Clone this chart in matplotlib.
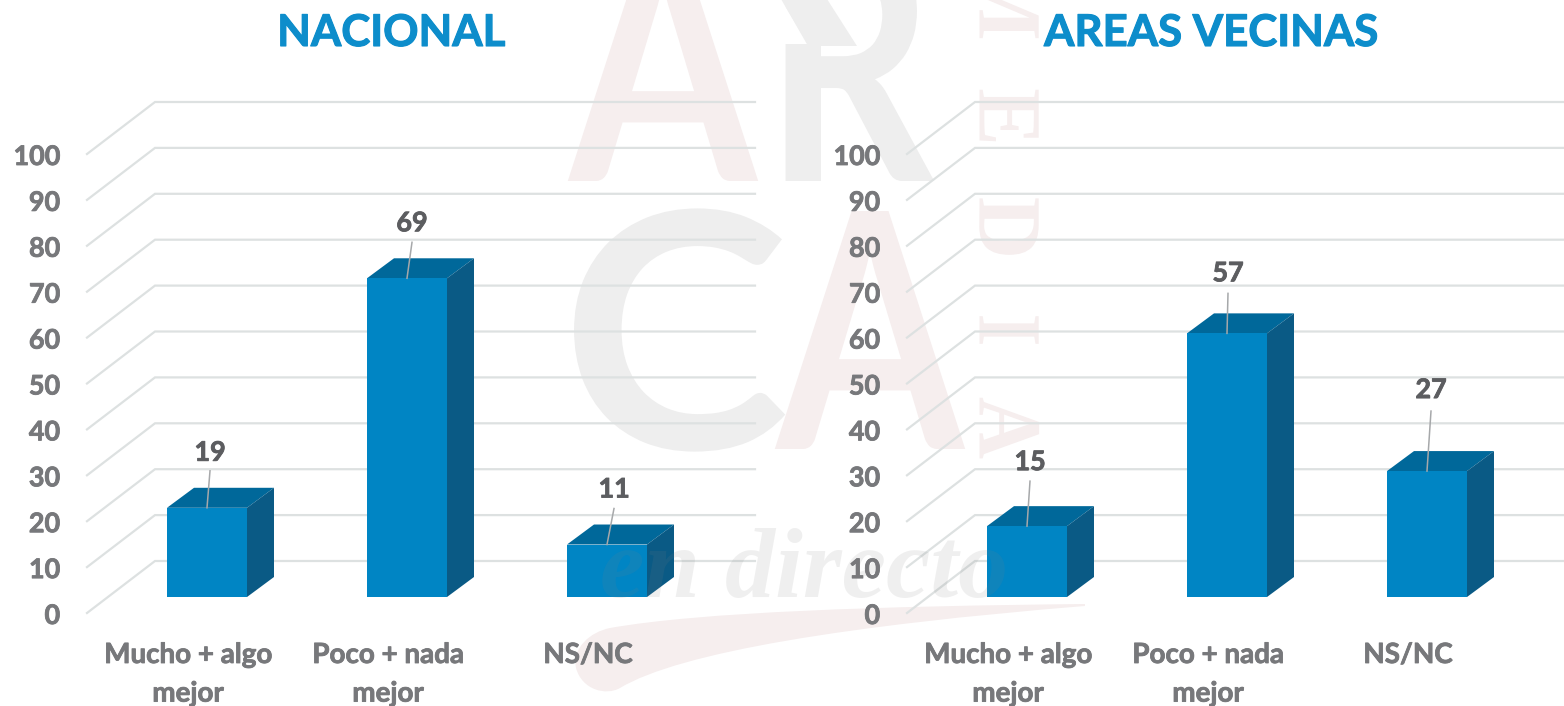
import matplotlib
matplotlib.use("Agg")
import matplotlib.pyplot as plt
import matplotlib.patheffects as pe
from matplotlib.path import Path
from matplotlib.patches import PathPatch, Polygon
from matplotlib.transforms import Affine2D

# ---- data ----
categories = ["Mucho + algo\nmejor", "Poco + nada\nmejor", "NS/NC"]
panel_titles = ["NACIONAL", "AREAS VECINAS"]
nacional = [19, 69, 11]
areas_vecinas = [15, 57, 27]
y_ticks = [0, 10, 20, 30, 40, 50, 60, 70, 80, 90, 100]

# ---- style / layout (pixels) ----
W, H = 1564, 706
FONT = "Lato"
BLUE_FRONT, BLUE_TOP, BLUE_SIDE = "#0085c4", "#00689a", "#0a5a85"
GRID = "#dde1e1"
TICK_C = "#77787b"
LABEL_C = "#5c5d60"
TITLE_C = "#0d8dcb"
PINK = "#f6eeee"
GREY = "#eeeeee"
PX_X = 200.0          # pixels per category
PX_Y = 4.59           # pixels per value unit
BASE_Y = 595          # value 0 on the bar plane
BAR_DROP = 2          # bars reach this far below the value-0 plane
BAR_W = 0.40
DEPTH = (27, 20)
leader_left = [(3, 37, 18), (5, 36, 19), (7, 36, 19)]
leader_right = [(3, 45, 19), (1, 40, 20), (4, 60, 21)]


class Stretch(pe.AbstractPathEffect):
    """Stretch a text's outline about a fixed display x."""
    def __init__(self, sx, cx):
        super().__init__()
        self.sx, self.cx = sx, cx

    def draw_path(self, renderer, gc, tpath, affine, rgbFace=None):
        t = affine + Affine2D().translate(-self.cx, 0).scale(self.sx, 1).translate(self.cx, 0)
        renderer.draw_path(gc, tpath, t, rgbFace)


def bold(color, w=0.6):
    return [pe.withStroke(linewidth=w, foreground=color)]


fig = plt.figure(figsize=(W / 100, H / 100), dpi=100, facecolor="white")

# ---- watermark ----
bg = fig.add_axes([0, 0, 1, 1], zorder=0)
bg.set_xlim(0, W)
bg.set_ylim(H, 0)
bg.axis("off")
big = dict(family="Lato", fontweight="bold", fontsize=237, ha="center",
           va="baseline", clip_on=True)
bg.text(663, 181, "A", color=PINK, path_effects=[Stretch(0.82, 663)], **big)
bg.text(849, 181, "R", color=GREY, path_effects=[Stretch(0.80, 849)], **big)
bg.text(675, 449, "C", color=GREY, path_effects=[Stretch(1.05, 675)], **big)
bg.text(870, 449, "A", color=PINK, path_effects=[Stretch(0.82, 870)], **big)
bg.add_patch(Polygon([(758, -1), (781, -1), (808, 44), (758, 44)], facecolor="white",
                     edgecolor="none", zorder=4))
bg.add_patch(Polygon([(781, -1), (827, -1), (857, 46), (808, 46)], facecolor=GREY,
                     edgecolor="none", zorder=4))
for ch, yc in zip("MEDIA", [0, 117, 228, 330, 428]):
    bg.text(1001, yc, ch, color=PINK, rotation=-90, ha="center", va="center",
            fontsize=62, family="Liberation Serif", fontweight="bold",
            path_effects=[Stretch(1.05, 1001)])
swoosh = Path(
    [(1085, 604), (880, 606), (700, 612), (610, 628), (590, 632), (572, 648), (576, 668),
     (582, 690), (606, 696), (620, 688), (680, 652), (850, 625), (1085, 606), (1085, 604)],
    [Path.MOVETO, Path.CURVE4, Path.CURVE4, Path.CURVE4, Path.CURVE4, Path.CURVE4, Path.CURVE4,
     Path.CURVE4, Path.CURVE4, Path.CURVE4, Path.CURVE4, Path.CURVE4, Path.CURVE4, Path.CLOSEPOLY])
bg.add_patch(PathPatch(swoosh, facecolor=PINK, edgecolor="none"))


def panel(x0, values, title, title_x, leaders, back_end):
    ax = fig.add_axes([x0 / W, (H - BASE_Y) / H, 3 * PX_X / W, 100 * PX_Y / H], zorder=1)
    ax.set_xlim(-0.5, 2.5)
    ax.set_ylim(0, 100)
    ax.axis("off")
    ux, uy = 1 / PX_X, 1 / PX_Y
    for v in y_ticks:
        ax.plot([-0.5 - 20 * ux, -0.5 + 48 * ux, -0.5 + (back_end - x0) * ux],
                [v - 18 * uy, v + 34 * uy, v + 34 * uy],
                color=GRID, lw=1.6, clip_on=False, zorder=1, solid_joinstyle="miter")
        ax.text(-0.5 - 47 * ux, v - 21 * uy, str(v), color=TICK_C, fontsize=19.4,
                fontweight="bold", family=FONT, ha="right", va="center", clip_on=False,
                path_effects=bold(TICK_C))
    dx, dy = DEPTH[0] * ux, DEPTH[1] * uy
    drop = BAR_DROP * uy
    xs = list(range(len(values)))
    ax.bar(xs, [v + drop for v in values], bottom=-drop, width=BAR_W, color=BLUE_FRONT,
           zorder=3, clip_on=False)
    for x, v, (lx, ll, lt), cat in zip(xs, values, leaders, categories):
        l, r = x - BAR_W / 2, x + BAR_W / 2
        ax.add_patch(Polygon([(l, v), (r, v), (r + dx, v + dy), (l + dx, v + dy)],
                             facecolor=BLUE_TOP, edgecolor="none", zorder=2, clip_on=False))
        ax.add_patch(Polygon([(r, -drop), (r, v), (r + dx, v + dy), (r + dx, dy - drop)],
                             facecolor=BLUE_SIDE, edgecolor="none", zorder=2, clip_on=False))
        ax.plot([x, x + lx * ux], [v, v + ll * uy], color="#a6a8aa", lw=1.1, zorder=4, clip_on=False)
        ax.text(x + lx * ux, v + (ll + lt) * uy, str(v), color=LABEL_C, fontsize=19.4,
                fontweight="bold", family=FONT, ha="center", va="center", clip_on=False, zorder=5,
                path_effects=bold(LABEL_C))
        ax.text(x - 19 * ux, -47 * uy, cat, color=TICK_C, fontsize=20, fontweight="bold",
                family=FONT, ha="center", va="top", linespacing=1.6, clip_on=False,
                path_effects=bold(TICK_C))
    fig.text(title_x / W, 1 - 33 / H, title, color=TITLE_C, fontsize=31.5, fontweight="bold",
             family=FONT, ha="center", va="center", path_effects=bold(TITLE_C, 0.8))


panel(107, nacional, panel_titles[0], 391, leader_left, 755)
panel(927, areas_vecinas, panel_titles[1], 1211, leader_right, 1564)

# ---- translucent handwriting lying over the bars ----
top = fig.add_axes([0, 0, 1, 1], zorder=3)
top.set_xlim(0, W)
top.set_ylim(H, 0)
top.axis("off")
top.text(804, 597, "en directo", color="#808080", alpha=0.12, fontsize=72, style="italic",
         fontweight="bold", ha="center", va="baseline", family="Liberation Serif")

fig.savefig("out.png", dpi=100)
